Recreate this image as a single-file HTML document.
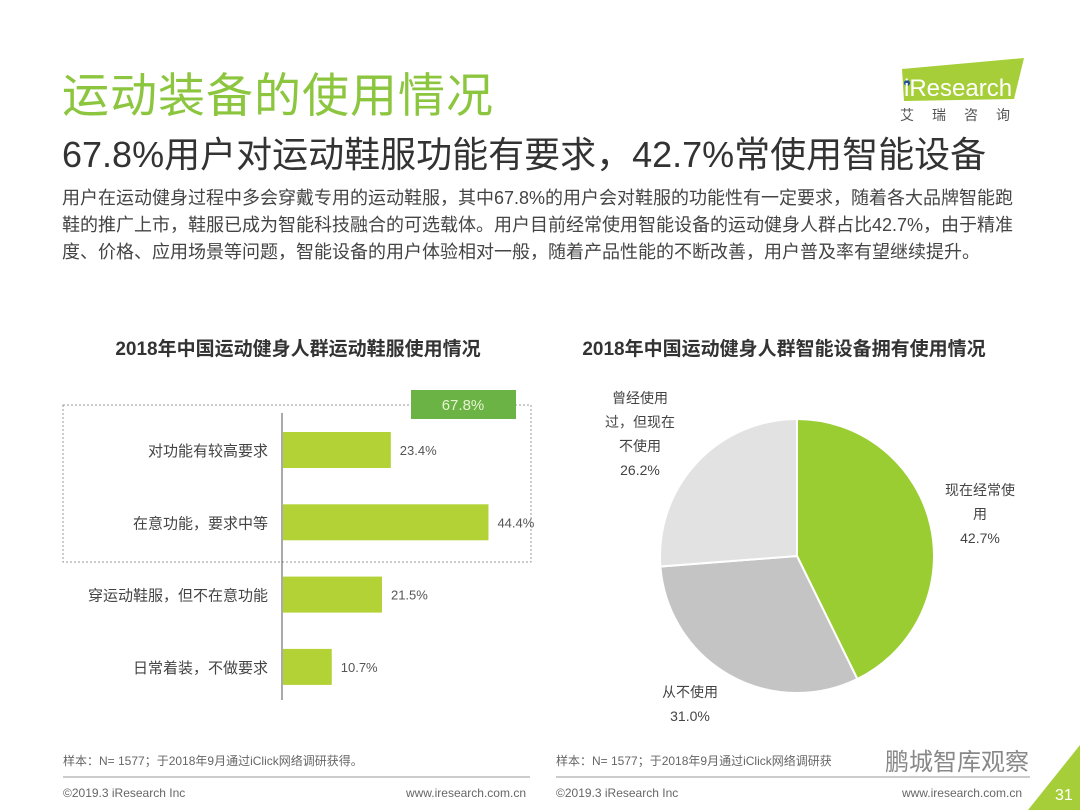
<!DOCTYPE html>
<html><head><meta charset="utf-8"><style>
body{margin:0;width:1080px;height:810px;background:#fff;overflow:hidden;font-family:"Liberation Sans","Noto Sans CJK SC",sans-serif;position:relative}
.a{position:absolute;white-space:nowrap}
</style></head><body>
<div class="a" style="left:62px;top:57px;font-size:47px;color:#8cc63f;letter-spacing:1px">运动装备的使用情况</div>
<div class="a" style="left:62px;top:126px;font-size:36px;color:#333">67.8%用户对运动鞋服功能有要求，42.7%常使用智能设备</div>
<div class="a" style="left:62px;top:185px;font-size:18px;line-height:27px;color:#444">用户在运动健身过程中多会穿戴专用的运动鞋服，其中67.8%的用户会对鞋服的功能性有一定要求，随着各大品牌智能跑<br>鞋的推广上市，鞋服已成为智能科技融合的可选载体。用户目前经常使用智能设备的运动健身人群占比42.7%，由于精准<br>度、价格、应用场景等问题，智能设备的用户体验相对一般，随着产品性能的不断改善，用户普及率有望继续提升。</div>
<svg class="a" style="left:890px;top:55px" width="150" height="70">
<polygon points="12,14 134,3 124,44 14,46" fill="#a6ce39"/>
<circle cx="17" cy="28" r="3" fill="#1f4e9c"/>
<text x="14" y="41" font-size="24" fill="#fff" font-family="Liberation Sans">iResearch</text>
<text x="10" y="65" font-size="14" fill="#555" letter-spacing="18" font-family="Noto Sans CJK SC">艾瑞咨询</text>
</svg>
<svg class="a" style="left:0;top:0" width="1080" height="810">
<text x="298" y="355" text-anchor="middle" font-size="19" font-weight="bold" fill="#333">2018年中国运动健身人群运动鞋服使用情况</text>
<text x="784" y="355" text-anchor="middle" font-size="19" font-weight="bold" fill="#333">2018年中国运动健身人群智能设备拥有使用情况</text>
<rect x="63" y="405" width="468" height="157" fill="none" stroke="#999" stroke-dasharray="2,2"/>
<rect x="411" y="390" width="105" height="29" fill="#6ab344"/>
<text x="463" y="410" text-anchor="middle" font-size="15" fill="#e8f5d0">67.8%</text>
<line x1="282" y1="413" x2="282" y2="700" stroke="#555"/>
<g id="bars"></g>
<g id="pie"></g>
<line x1="63" y1="777" x2="530" y2="777" stroke="#999"/>
<line x1="556" y1="777" x2="1030" y2="777" stroke="#999"/>
<text x="63" y="765" font-size="12" fill="#666">样本：N= 1577；于2018年9月通过iClick网络调研获得。</text>
<text x="556" y="765" font-size="12" fill="#666">样本：N= 1577；于2018年9月通过iClick网络调研获</text>
<text x="63" y="797" font-size="12" fill="#666">©2019.3  iResearch Inc</text>
<text x="526" y="797" font-size="12" fill="#666" text-anchor="end">www.iresearch.com.cn</text>
<text x="556" y="797" font-size="12" fill="#666">©2019.3  iResearch Inc</text>
<text x="1022" y="797" font-size="12" fill="#666" text-anchor="end">www.iresearch.com.cn</text>
<text x="885" y="770" font-size="24" fill="#888">鹏城智库观察</text>
<polygon points="1080,745 1080,810 1028,810" fill="#a6ce39"/>
<text x="1055" y="800" font-size="16" fill="#fff">31</text>
</svg>
<script>
const categories=["对功能有较高要求","在意功能，要求中等","穿运动鞋服，但不在意功能","日常着装，不做要求"];
const values=[23.4,44.4,21.5,10.7];
const pieLabels=[["现在经常使","用","42.7%"],["从不使用","31.0%"],["曾经使用","过，但现在","不使用","26.2%"]];
const pieValues=[42.7,31.0,26.2];
const NS="http://www.w3.org/2000/svg";
function mk(t,a,p){const e=document.createElementNS(NS,t);for(const k in a)e.setAttribute(k,a[k]);p.appendChild(e);return e;}
const x=v=>282+v*4.65, yc=i=>450+i*72.3;
const bars=document.getElementById('bars');
values.forEach((v,i)=>{
 const r=mk('rect',{x:283,y:yc(i)-18,width:x(v)-283,height:36,fill:'#b2d235'},bars);
 
 
 const t=mk('text',{x:x(v)+9,y:yc(i)+5,'font-size':13,fill:'#555'},bars);t.textContent=v.toFixed(1)+'%';
 
 
 const c=mk('text',{x:268,y:yc(i)+6,'font-size':15,fill:'#444','text-anchor':'end'},bars);c.textContent=categories[i];
 
 
});
const pie=document.getElementById('pie');
const cx=797,cy=556,R=137,cols=['#9acd32','#c4c4c4','#e2e2e2'];
const tot=pieValues.reduce((a,b)=>a+b,0);let a0=0;
const lp=[[980,495],[690,697],[640,403]];
pieValues.forEach((v,i)=>{
 const a1=a0+v/tot*2*Math.PI;
 const p=(a)=>[cx+R*Math.sin(a),cy-R*Math.cos(a)];
 const [x0,y0]=p(a0),[x1,y1]=p(a1);
 const s=mk('path',{d:`M${cx},${cy}L${x0},${y0}A${R},${R} 0 ${a1-a0>Math.PI?1:0} 1 ${x1},${y1}Z`,fill:cols[i],stroke:'#fff','stroke-width':2},pie);
 
 
 pieLabels[i].forEach((l,j)=>{const t=mk('text',{x:lp[i][0],y:lp[i][1]+j*24,'font-size':14,fill:'#444','text-anchor':'middle'},pie);t.textContent=l;
 
 });
 a0=a1;
});
</script>
</body></html>
